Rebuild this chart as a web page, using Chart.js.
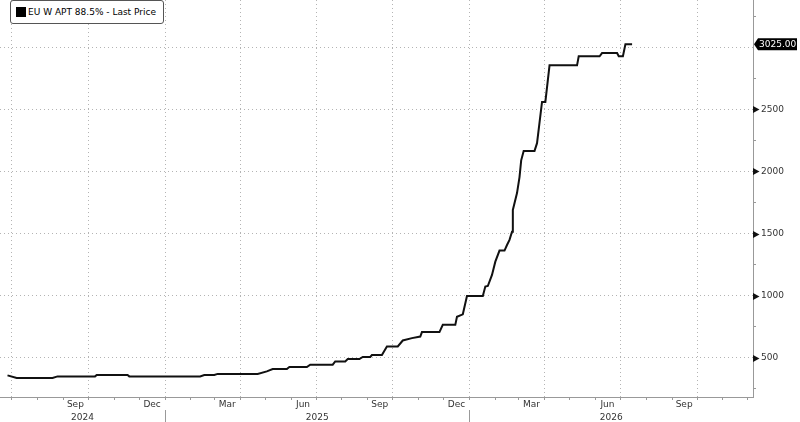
<!DOCTYPE html>
<html>
<head>
<meta charset="utf-8">
<script src="https://cdn.jsdelivr.net/npm/chart.js@4.4.1/dist/chart.umd.min.js"></script>
<style>
  html, body { margin: 0; padding: 0; background: #fff; }
  #wrap { position: relative; width: 800px; height: 422px; }
  #legend {
    position: absolute; left: 10px; top: 0; box-sizing: border-box;
    width: 154px; height: 24px; padding-left: 5px;
    border: 1px solid #555; border-radius: 3px; background: #fff;
    display: flex; align-items: center; white-space: nowrap;
    font: 9px "DejaVu Sans", sans-serif; color: #000;
  }
  #legend i { display: inline-block; width: 10px; height: 10px; background: #000; margin-right: 2px; }
</style>
</head>
<body>
<div id="wrap">
  <canvas id="priceChart" width="800" height="422"></canvas>
  <div id="legend"><i></i>EU W APT 88.5% - Last Price</div>
</div>
<script>
const DAY = 864e5;
const toDay = s => Date.parse(s + "T00:00:00Z") / DAY;

// price path
const dates = [
  "2024-06-26", "2024-07-07", "2024-08-19", "2024-08-25", "2024-10-09", "2024-10-11",
  "2024-11-17", "2024-11-19", "2025-02-12", "2025-02-17", "2025-03-01", "2025-03-05",
  "2025-04-22", "2025-05-03", "2025-05-10", "2025-05-27", "2025-05-30", "2025-06-20",
  "2025-06-24", "2025-07-21", "2025-07-24", "2025-08-05", "2025-08-08", "2025-08-22",
  "2025-08-26", "2025-09-04", "2025-09-06", "2025-09-18", "2025-09-24", "2025-10-07",
  "2025-10-13", "2025-10-24", "2025-11-03", "2025-11-05", "2025-11-26", "2025-11-30",
  "2025-12-15", "2025-12-17", "2025-12-24", "2025-12-29", "2026-01-17", "2026-01-20",
  "2026-01-23", "2026-01-28", "2026-02-01", "2026-02-06", "2026-02-12", "2026-02-15",
  "2026-02-18", "2026-02-21", "2026-02-22", "2026-02-27", "2026-03-02", "2026-03-04",
  "2026-03-07", "2026-03-20", "2026-03-23", "2026-03-29", "2026-04-02", "2026-04-07",
  "2026-05-10", "2026-05-12", "2026-06-06", "2026-06-09", "2026-06-27", "2026-06-29",
  "2026-07-04", "2026-07-07", "2026-07-15"
];
const prices = [
  358, 338, 338, 350, 350, 361,
  361, 350, 350, 361, 361, 370,
  370, 390, 409, 409, 425, 425,
  444, 444, 470, 470, 490, 490,
  506, 506, 522, 522, 591, 591,
  639, 658, 671, 707, 707, 765,
  765, 830, 850, 998, 998, 1073,
  1078, 1167, 1274, 1363, 1363, 1408,
  1449, 1515, 1690, 1826, 1955, 2090,
  2166, 2166, 2228, 2560, 2560, 2855,
  2855, 2928, 2928, 2954, 2954, 2928,
  2928, 3025, 3025
];

// tick labels: the quarter-start gridline carries the name of the month before it
const quarterLabels = { 0: "Dec", 3: "Mar", 6: "Jun", 9: "Sep" };
const years = [2024, 2025, 2026];

const xMin = toDay("2024-06-17");
const xMax = toDay("2026-12-07");
const yMin = 184, yMax = 3381;
const yStep = 250, yMajor = 500;

const lastPrice = prices[prices.length - 1];
const font = { family: "'DejaVu Sans', sans-serif", size: 9 };
const gridGrey = "#b4b4b4";
const axisGrey = "#999";

// month starts inside the visible range
const monthTicks = [];
for (let y = 2024; y <= 2026; y++) {
  for (let m = 0; m < 12; m++) {
    const v = Date.UTC(y, m, 1) / DAY;
    if (v >= xMin && v <= xMax) monthTicks.push(v);
  }
}
const monthOf = v => new Date(v * DAY).getUTCMonth();

const points = dates.map((d, i) => ({ x: toDay(d), y: prices[i] }));

// pointers, year row and last price tag
const axisExtras = {
  id: "axisExtras",
  afterDraw(chart) {
    const { ctx, scales: { x, y } } = chart;
    ctx.save();

    ctx.fillStyle = "#111";
    y.ticks.forEach(t => {
      if (!t.label) return;
      const py = Math.round(y.getPixelForValue(t.value)) + 0.5;
      ctx.beginPath();
      ctx.moveTo(y.left, py - 3.5);
      ctx.lineTo(y.left + 6.5, py);
      ctx.lineTo(y.left, py + 3.5);
      ctx.closePath();
      ctx.fill();
    });

    ctx.strokeStyle = axisGrey;
    ctx.lineWidth = 1;
    ctx.fillStyle = "#333";
    ctx.font = "9px 'DejaVu Sans', sans-serif";
    ctx.textAlign = "center";
    ctx.textBaseline = "middle";
    years.forEach(yr => {
      const start = Math.max(Date.UTC(yr, 0, 1) / DAY, xMin);
      const end = Math.min(Date.UTC(yr + 1, 0, 1) / DAY, xMax);
      const mid = x.getPixelForValue((start + end) / 2);
      ctx.fillText(String(yr), mid, x.top + 20.5);
      const sep = Date.UTC(yr, 0, 1) / DAY;
      if (sep > xMin && sep < xMax) {
        const px = Math.round(x.getPixelForValue(sep)) + 0.5;
        ctx.beginPath();
        ctx.moveTo(px, x.top + 13);
        ctx.lineTo(px, x.bottom);
        ctx.stroke();
      }
    });

    const py = y.getPixelForValue(lastPrice);
    const l = y.left + 1, r = chart.width - 3;
    ctx.fillStyle = "#000";
    ctx.beginPath();
    ctx.moveTo(l, py);
    ctx.lineTo(l + 4, py - 6);
    ctx.lineTo(r, py - 6);
    ctx.lineTo(r, py + 6);
    ctx.lineTo(l + 4, py + 6);
    ctx.closePath();
    ctx.fill();
    ctx.fillStyle = "#fff";
    ctx.textAlign = "left";
    ctx.fillText(lastPrice.toFixed(2), l + 5, py);

    ctx.restore();
  }
};

new Chart(document.getElementById("priceChart"), {
  type: "line",
  data: {
    datasets: [{
      label: "EU W APT 88.5% - Last Price",
      data: points,
      borderColor: "#111",
      borderWidth: 2,
      pointRadius: 0,
      tension: 0
    }]
  },
  options: {
    responsive: false,
    animation: false,
    layout: { padding: 0 },
    plugins: { legend: { display: false }, tooltip: { enabled: false } },
    scales: {
      x: {
        type: "linear",
        min: xMin,
        max: xMax,
        afterBuildTicks: s => { s.ticks = monthTicks.map(v => ({ value: v })); },
        afterFit: s => { s.height = 25; s.paddingLeft = 0; s.paddingRight = 0; },
        ticks: {
          autoSkip: false,
          maxRotation: 0,
          minRotation: 0,
          labelOffset: -13,
          padding: -1,
          color: "#333",
          font: font,
          callback: v => {
            const m = monthOf(v);
            return (m % 3 === 0 && v - 15 >= xMin) ? quarterLabels[m] : "";
          }
        },
        grid: {
          color: c => (c.tick && monthOf(c.tick.value) % 3 === 0) ? gridGrey : "rgba(0,0,0,0)",
          tickColor: axisGrey,
          tickLength: 3,
          lineWidth: 1
        },
        border: { color: axisGrey, dash: [1, 3] }
      },
      y: {
        position: "right",
        min: yMin,
        max: yMax,
        afterBuildTicks: s => {
          const t = [];
          for (let v = Math.ceil(yMin / yStep) * yStep; v <= yMax; v += yStep) t.push({ value: v });
          s.ticks = t;
        },
        afterFit: s => { s.width = 47; s.paddingTop = 0; s.paddingBottom = 0; },
        ticks: {
          padding: 5,
          color: "#333",
          font: font,
          callback: v => (v % yMajor === 0 && Math.abs(v - lastPrice) > 120) ? String(v) : ""
        },
        grid: {
          color: c => (c.tick && c.tick.value % yMajor === 0) ? gridGrey : "rgba(0,0,0,0)",
          tickColor: c => (c.tick && c.tick.value % yMajor === 0) ? "rgba(0,0,0,0)" : axisGrey,
          tickLength: 3,
          lineWidth: 1
        },
        border: { color: axisGrey, dash: [1, 3] }
      }
    }
  },
  plugins: [axisExtras]
});
</script>
</body>
</html>
